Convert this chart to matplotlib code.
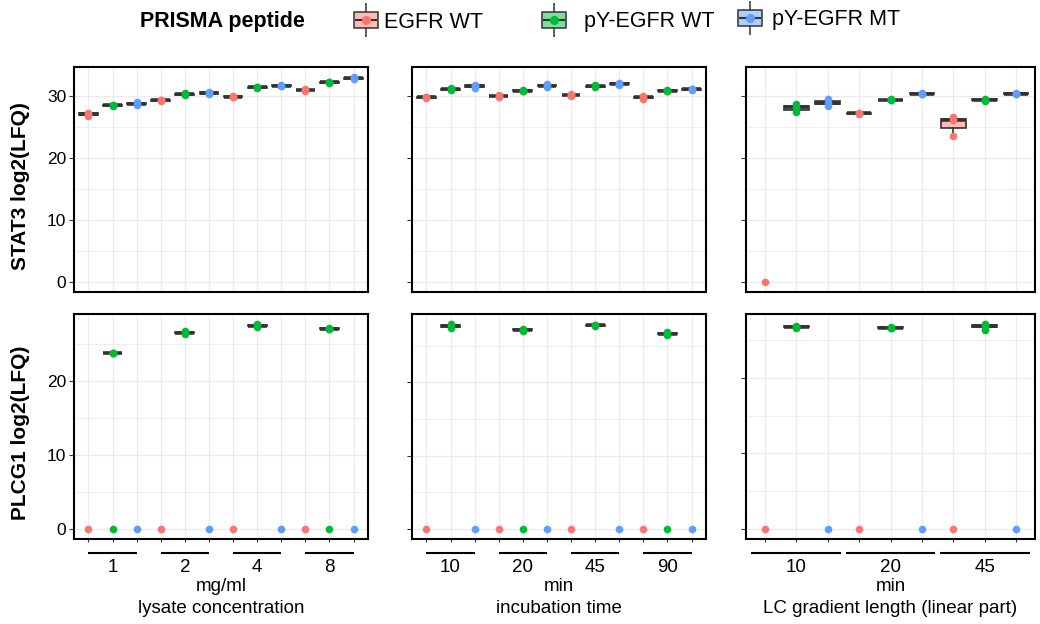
import numpy as np
import matplotlib.pyplot as plt
from matplotlib.colors import to_rgb
from matplotlib.lines import Line2D
from matplotlib.patches import Patch
from matplotlib.legend_handler import HandlerTuple
from matplotlib.ticker import MultipleLocator
import matplotlib.transforms as mtrans

plt.rcParams['font.family'] = ['Liberation Sans', 'DejaVu Sans']

peptides = ['EGFR WT', 'pY-EGFR WT', 'pY-EGFR MT']
colors = ['#F8766D', '#00BA38', '#619CFF']

conc_groups = ['1', '2', '4', '8']
incub_groups = ['10', '20', '45', '90']
grad_groups = ['10', '20', '45']

# replicate log2(LFQ) values, one list per group x peptide
# 0 = not detected -> drawn as a point only, not part of the box
stat3_conc = [
    [26.85, 27.1, 27.35], [28.35, 28.5, 28.6], [28.6, 28.8, 29.0],
    [29.2, 29.3, 29.35], [30.1, 30.3, 30.5], [30.3, 30.5, 30.7],
    [29.8, 29.9, 30.0], [31.25, 31.4, 31.55], [31.6, 31.7, 31.85],
    [30.9, 31.0, 31.1], [32.1, 32.2, 32.3], [32.75, 32.9, 33.05],
]
stat3_incub = [
    [29.7, 29.8, 29.9], [30.95, 31.1, 31.25], [31.35, 31.6, 31.85],
    [29.9, 30.0, 30.1], [30.75, 30.9, 31.05], [31.45, 31.7, 31.95],
    [30.05, 30.2, 30.3], [31.45, 31.6, 31.75], [31.85, 32.0, 32.15],
    [29.6, 29.8, 29.95], [30.75, 30.9, 31.05], [31.0, 31.1, 31.2],
]
stat3_grad = [
    [0.0], [27.4, 28.2, 28.7], [28.4, 28.9, 29.6],
    [27.1, 27.2, 27.3], [29.3, 29.4, 29.5], [30.3, 30.4, 30.5],
    [23.5, 26.1, 26.6], [29.2, 29.4, 29.55], [30.3, 30.4, 30.45],
]
plcg1_conc = [
    [0.0], [23.8, 23.85, 23.9, 0.0], [0.0],
    [0.0], [26.4, 26.6, 26.85], [0.0],
    [0.0], [27.4, 27.55, 27.75], [0.0],
    [0.0], [27.1, 27.15, 27.2, 0.0], [0.0],
]
plcg1_incub = [
    [0.0], [27.45, 27.7, 27.95], [0.0],
    [0.0], [27.05, 27.2, 27.35, 0.0], [0.0],
    [0.0], [27.7, 27.8, 27.9], [0.0],
    [0.0], [26.45, 26.65, 26.85, 0.0], [0.0],
]
plcg1_grad = [
    [0.0], [26.7, 26.8, 26.9], [0.0],
    [0.0], [26.6, 26.7, 26.8], [0.0],
    [0.0], [26.45, 26.9, 27.0, 27.15], [0.0],
]

columns = [
    (conc_groups, 'mg/ml', 'lysate concentration', stat3_conc, plcg1_conc, 1.0),
    (incub_groups, 'min', 'incubation time', stat3_incub, plcg1_incub, 1.0),
    (grad_groups, 'min', 'LC gradient length (linear part)', stat3_grad, plcg1_grad, 1.43),
]


def light(c):
    r, g, b = to_rgb(c)
    return (0.5 + r / 2, 0.5 + g / 2, 0.5 + b / 2)


def draw_panel(ax, data, ngroups):
    npos = ngroups * 3
    for p in range(3):
        pos, vals = [], []
        for g in range(ngroups):
            i = g * 3 + p
            nz = [v for v in data[i] if v != 0]
            if nz:
                pos.append(i + 1)
                vals.append(nz)
        if vals:
            ax.boxplot(vals, positions=pos, widths=0.78, patch_artist=True,
                       showfliers=False, manage_ticks=False,
                       boxprops=dict(facecolor=light(colors[p]), edgecolor='#333333', lw=1.2),
                       medianprops=dict(color='#333333', lw=2.6),
                       whiskerprops=dict(color='#333333', lw=1.2),
                       capprops=dict(lw=0), zorder=2)
        for g in range(ngroups):
            i = g * 3 + p
            ax.plot([i + 1] * len(data[i]), data[i], 'o', color=colors[p],
                    ms=5.5, mec='none', zorder=3)
    ax.set_xlim(0.4, npos + 0.6)
    ax.set_xticks(np.arange(1, npos + 1))
    ax.set_xticklabels([])
    ax.yaxis.set_major_locator(MultipleLocator(10))
    ax.yaxis.set_minor_locator(MultipleLocator(5))
    ax.grid(True, which='major', color='#EBEBEB', lw=0.9, zorder=0)
    ax.grid(True, which='minor', axis='y', color='#EBEBEB', lw=0.6, zorder=0)
    ax.set_axisbelow(True)
    for s in ax.spines.values():
        s.set_linewidth(1.5)
        s.set_color('black')
    ax.tick_params(axis='y', which='major', length=3.5, color='#333333',
                   labelsize=12.5, pad=2)
    ax.tick_params(axis='y', which='minor', length=0)
    ax.tick_params(axis='x', length=0)


fig = plt.figure(figsize=(10.4, 6.24), dpi=100)
W, H = 1040, 624
col_x = [(74, 368), (412, 706), (746, 1035)]
row_y = [(67, 292), (314, 539)]

top_axes = []
for c, (groups, unit, title, stat3, plcg1, half) in enumerate(columns):
    x0, x1 = col_x[c]
    n = len(groups)
    # STAT3 row (shared y)
    y0, y1 = row_y[0]
    rect = [x0 / W, 1 - y1 / H, (x1 - x0) / W, (y1 - y0) / H]
    ax = fig.add_axes(rect, sharey=top_axes[0] if top_axes else None)
    top_axes.append(ax)
    draw_panel(ax, stat3, n)
    # PLCG1 row
    y0, y1 = row_y[1]
    rect = [x0 / W, 1 - y1 / H, (x1 - x0) / W, (y1 - y0) / H]
    bx = fig.add_axes(rect)
    draw_panel(bx, plcg1, n)
    bx.tick_params(axis='x', length=2.5, color='#333333')

    if c == 0:
        ax.set_ylabel('STAT3 log2(LFQ)', fontsize=15, fontweight='bold')
        bx.set_ylabel('PLCG1 log2(LFQ)', fontsize=15, fontweight='bold')
        ax.yaxis.set_label_coords(-0.15, 0.47)
        bx.yaxis.set_label_coords(-0.15, 0.47)
    else:
        ax.tick_params(labelleft=False)
        bx.tick_params(labelleft=False)

    # group brackets and labels under the bottom panel
    tr = mtrans.blended_transform_factory(bx.transData, bx.transAxes)
    for g, lab in enumerate(groups):
        center = g * 3 + 2
        bx.plot([center - half, center + half], [-0.064, -0.064], color='black',
                lw=1.5, transform=tr, clip_on=False, solid_capstyle='butt')
        bx.text(center, -0.125, lab, transform=tr, ha='center', va='center',
                fontsize=13.5)
    bx.text(0.5, -0.21, unit, transform=bx.transAxes, ha='center', va='center',
            fontsize=13.5)
    bx.text(0.5, -0.307, title, transform=bx.transAxes, ha='center', va='center',
            fontsize=13.5)

# legend: one entry per peptide, placed like the ggplot key row
fig.text(140 / W, 1 - 22 / H, 'PRISMA peptide', fontsize=15.5, fontweight='bold',
         ha='left', va='center')
key_left = [354, 542, 738]
key_pad = [0.3, 0.85, 0.5]
key_y = [22, 22, 20]
for p in range(3):
    handle = (
        Line2D([], [], color='#333333', marker='|', ms=24, mew=1.1, ls='None'),
        Patch(facecolor=light(colors[p]), edgecolor='#333333', lw=1.1),
        Line2D([], [], color='#333333', marker='_', ms=16, mew=1.5, ls='None'),
        Line2D([], [], color=colors[p], marker='o', ms=6.5, mec='none', ls='None'),
    )
    fig.legend([handle], [peptides[p]], handler_map={tuple: HandlerTuple(ndivide=1, pad=0)},
               loc='center left', bbox_to_anchor=(key_left[p] / W, 1 - key_y[p] / H),
               frameon=False, fontsize=15.5, handlelength=1.1, handleheight=0.8,
               handletextpad=key_pad[p], borderpad=0, borderaxespad=0)

fig.savefig('out.png', dpi=100)
